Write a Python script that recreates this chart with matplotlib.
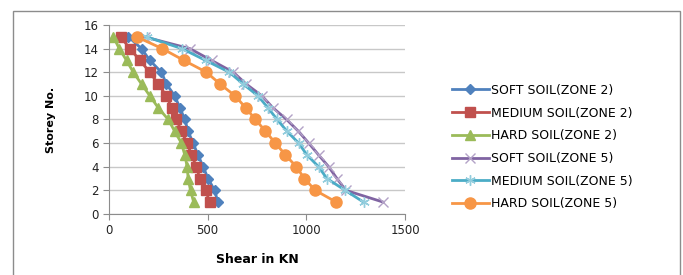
import numpy as np
import matplotlib
matplotlib.use("Agg")
import matplotlib.pyplot as plt
from matplotlib.patches import Rectangle

# storey numbers, top storey first
storeys = [15, 14, 13, 12, 11, 10, 9, 8, 7, 6, 5, 4, 3, 2, 1]

# storey shear in KN
soft_z2   = [98, 165, 207, 266, 291, 333, 359, 384, 401, 426, 451, 477, 502, 535, 552]
medium_z2 = [59, 106, 157, 207, 249, 291, 317, 342, 367, 396, 418, 443, 460, 490, 510]
hard_z2   = [22, 52, 89, 123, 165, 207, 249, 300, 333, 367, 384, 396, 401, 413, 429]
soft_z5   = [180, 410, 520, 630, 695, 775, 830, 900, 960, 1012, 1062, 1113, 1155, 1200, 1390]
medium_z5 = [190, 370, 490, 610, 680, 755, 805, 852, 902, 961, 1003, 1062, 1104, 1197, 1290]
hard_z5   = [140, 270, 380, 494, 563, 639, 692, 742, 793, 843, 894, 949, 990, 1045, 1152]

labels = ["SOFT SOIL(ZONE 2)", "MEDIUM SOIL(ZONE 2)", "HARD SOIL(ZONE 2)",
          "SOFT SOIL(ZONE 5)", "MEDIUM SOIL(ZONE 5)", "HARD SOIL(ZONE 5)"]

plt.rcParams["font.family"] = ["DejaVu Sans"]

fig = plt.figure(figsize=(6.83, 2.75), dpi=100)
ax = fig.add_axes([0.1596, 0.222, 0.4334, 0.687])

# outer chart frame
fig.patches.append(Rectangle((13 / 683, -0.1), 667 / 683, 1.1 - 11 / 275,
                             transform=fig.transFigure, fill=False,
                             edgecolor="#8c8c8c", linewidth=1.0))

styles = [
    dict(color="#4F81BD", marker="D", markersize=5, mfc="#4F81BD", mec="#4F81BD"),
    dict(color="#C0504D", marker="s", markersize=7, mfc="#C0504D", mec="#C0504D"),
    dict(color="#9BBB59", marker="^", markersize=7, mfc="#9BBB59", mec="#9BBB59"),
    dict(color="#8064A2", marker="x", markersize=6.5, mfc="none", mec="#B3A2C7", mew=1.0),
    dict(color="#4BACC6", marker=(6, 2, 0), markersize=7.5, mfc="none", mec="#93CDDD", mew=1.0),
    dict(color="#F79646", marker="o", markersize=8, mfc="#F79646", mec="#F79646"),
]
series = [soft_z2, medium_z2, hard_z2, soft_z5, medium_z5, hard_z5]

for vals, lab, st in zip(series, labels, styles):
    ax.plot(vals, storeys, linewidth=2.0, label=lab, **st)

ax.set_xlim(0, 1500)
ax.set_ylim(0, 16)
ax.set_xticks([0, 500, 1000, 1500])
ax.set_yticks(np.arange(0, 17, 2))
ax.yaxis.grid(True, color="#c8c8c8", linewidth=1.0)
ax.set_axisbelow(True)
for s in ["top", "right"]:
    ax.spines[s].set_visible(False)
for s in ["left", "bottom"]:
    ax.spines[s].set_color("#8c8c8c")
ax.tick_params(axis="both", labelsize=8.5, colors="#8c8c8c", labelcolor="#222222",
               length=4, direction="out")

ax.set_xlabel("Shear in KN", fontsize=9, fontweight="bold", labelpad=11)
ax.set_ylabel("Storey No.", fontsize=8, fontweight="bold", labelpad=20)

ax.legend(loc="center left", bbox_to_anchor=(0.655, 0.465), bbox_transform=fig.transFigure,
          frameon=False, fontsize=9, handlelength=2.9, handletextpad=0.2,
          labelspacing=0.78, borderaxespad=0)

fig.savefig("out.png", dpi=100)
